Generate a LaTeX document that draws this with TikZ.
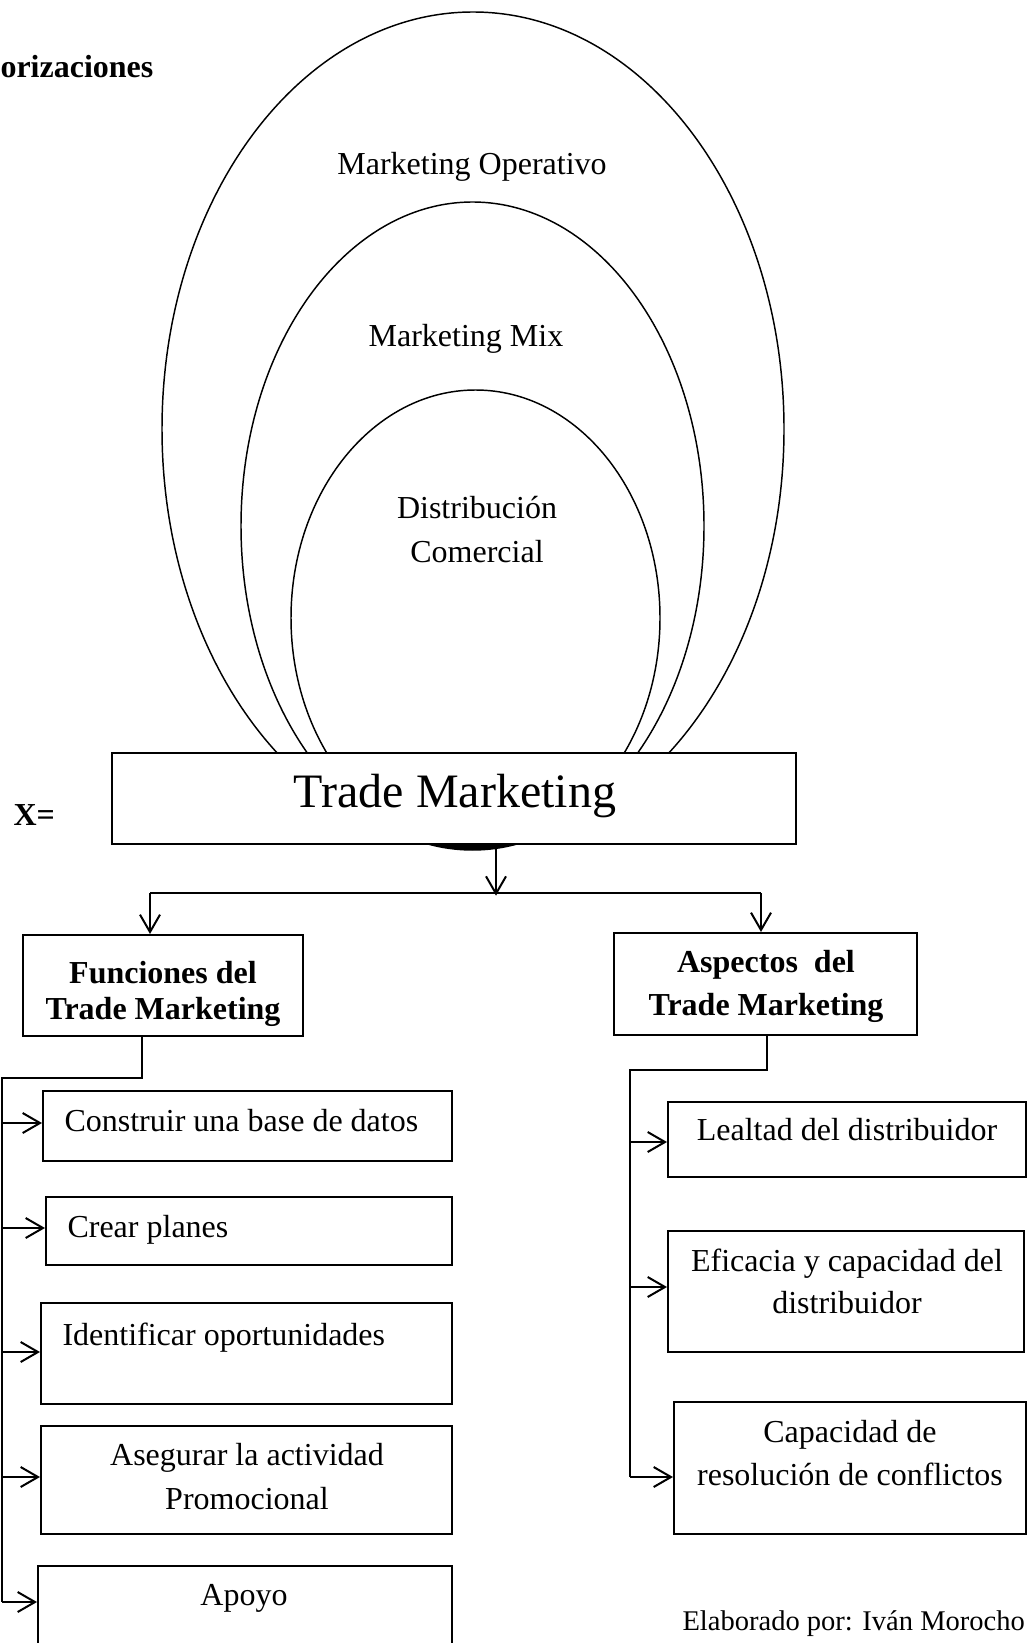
\documentclass[tikz,border=0pt]{standalone}
\usepackage{fontspec}
\setmainfont{Liberation Serif}
\usetikzlibrary{arrows.meta,fit}
\begin{document}
\begin{tikzpicture}[x=0.375pt, y=-0.375pt,
  ring/.style={line width=0.55pt},
  box/.style={draw, line width=0.75pt, fill=white, inner sep=0pt},
  wire/.style={line width=0.75pt},
  arr/.style={wire, -{Straight Barb[length=6.5pt, width=7.5pt, line width=0.75pt]}},
  txt/.style={inner sep=0pt, font=\fontsize{12}{16}\selectfont},
  btxt/.style={inner sep=0pt, font=\fontsize{12}{14}\selectfont\bfseries},
  big/.style={inner sep=0pt, font=\fontsize{18}{22}\selectfont}]
\useasboundingbox (0,0) rectangle (1031,1643);

% heading fragment and variable
\node[btxt, anchor=base west] (head) at (0,78) {orizaciones};
\node[btxt, anchor=base west] (xeq) at (13,825) {X=};

% nested rings (multi-line texts are placed by the baseline of their last line)
\draw[ring] (473,429) ellipse [x radius=311, y radius=417];
\draw[ring] (472.5,526) ellipse [x radius=231.5, y radius=324];
\draw[ring] (475.5,618) ellipse [x radius=184.5, y radius=228];
\node[txt, anchor=base] (mop) at (472,175) {Marketing Operativo};
\node[txt, anchor=base] (mmix) at (466,347) {Marketing Mix};
\node[txt, anchor=base, align=center, font=\fontsize{12}{16.5}\selectfont] (dist) at (477,562) {Distribución\\Comercial};

% the ring bottoms peeking out below the central box
\begin{scope}
  \clip (112,845) rectangle (796,860);
  \fill (472.5,526) ellipse [x radius=231.5, y radius=324];
\end{scope}

% central box
\node[box, fit={(112,753) (796,844)}] (tm) {};
\node[big, anchor=base] (tmt) at (455,807) {Trade Marketing};

% second level
\node[box, fit={(23,935) (303,1036)}] (fun) {};
\node[btxt, anchor=base, align=center, font=\fontsize{12}{13.2}\selectfont\bfseries] (funt) at (163,1019) {Funciones del\\Trade Marketing};
\node[box, fit={(614,933) (917,1035)}] (asp) {};
\node[btxt, anchor=base, align=center, font=\fontsize{12}{15.8}\selectfont\bfseries] (aspt) at (766,1015) {Aspectos~ del\\Trade Marketing};

% branch from the central box
\coordinate (bus) at (496,893);
\coordinate (busL) at (150,893);
\coordinate (busR) at (761,893);
\draw[arr] (tm.south -| bus) -- ([yshift=-1pt]bus);
\draw[wire] (busL) -- (busR);
\draw[arr] (busL) -- (busL |- fun.north);
\draw[arr] (busR) -- (busR |- asp.north);

% functions
\node[box, fit={(43,1091) (452,1161)}] (f1) {};
\node[txt, anchor=base west] (f1t) at (64,1131) {Construir una base de datos};
\node[box, fit={(46,1197) (452,1265)}] (f2) {};
\node[txt, anchor=base west] (f2t) at (67,1237) {Crear planes};
\node[box, fit={(41,1303) (452,1404)}] (f3) {};
\node[txt, anchor=base west] (f3t) at (62,1345) {Identificar oportunidades};
\node[box, fit={(41,1426) (452,1534)}] (f4) {};
\node[txt, anchor=base, align=center, font=\fontsize{12}{16.5}\selectfont] (f4t) at (247,1509) {Asegurar la actividad\\Promocional};
\node[box, fit={(38,1566) (452,1662)}] (f5) {};
\node[txt, anchor=base] (f5t) at (244,1605) {Apoyo};

\coordinate (ftop) at (142,1078);
\coordinate (frail) at (2,1078);
\draw[wire] (fun.south -| ftop) -- (ftop) -- (frail) -- (2,1602);
\draw[arr] (2,1123) -- (f1.west |- 2,1123);
\draw[arr] (2,1228) -- (f2.west |- 2,1228);
\draw[arr] (2,1352) -- (f3.west |- 2,1352);
\draw[arr] (2,1477) -- (f4.west |- 2,1477);
\draw[arr] (2,1602) -- (f5.west |- 2,1602);

% aspects
\node[box, fit={(668,1102) (1026,1177)}] (a1) {};
\node[txt, anchor=base] (a1t) at (847,1140) {Lealtad del distribuidor};
\node[box, fit={(668,1231) (1024,1352)}] (a2) {};
\node[txt, anchor=base, align=center, font=\fontsize{12}{15.4}\selectfont] (a2t) at (847,1313) {Eficacia y capacidad del\\distribuidor};
\node[box, fit={(674,1402) (1026,1534)}] (a3) {};
\node[txt, anchor=base, align=center, font=\fontsize{12}{16.1}\selectfont] (a3t) at (850,1485) {Capacidad de\\resolución de conflictos};

\coordinate (atop) at (767,1070);
\coordinate (arail) at (630,1070);
\draw[wire] (asp.south -| atop) -- (atop) -- (arail) -- (630,1477);
\draw[arr] (630,1142) -- (a1.west |- 630,1142);
\draw[arr] (630,1287) -- (a2.west |- 630,1287);
\draw[arr] (630,1477) -- (a3.west |- 630,1477);

% credit line
\node[inner sep=0pt, anchor=base west, font=\fontsize{10.7}{13}\selectfont] (cred) at (682,1630) {Elaborado por: Iván Morocho};
\end{tikzpicture}
\end{document}
